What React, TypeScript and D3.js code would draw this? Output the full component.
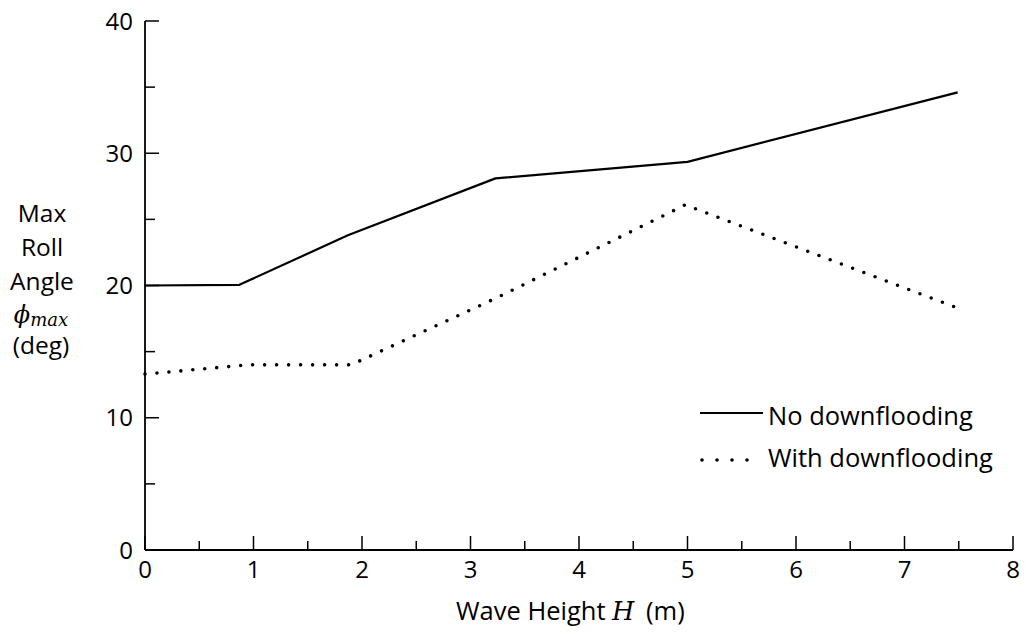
import React from "react";
import * as d3 from "d3";

const noDownX = [0, 0.87, 1.87, 3.23, 5.0, 7.49];
const noDownY = [20.0, 20.05, 23.8, 28.1, 29.35, 34.6];
const withDownX = [0, 0.95, 1.9, 3.25, 4.98, 7.49];
const withDownY = [13.3, 14.0, 14.0, 19.1, 26.1, 18.3];
const xMajor = [0, 1, 2, 3, 4, 5, 6, 7, 8];
const xMinor = [0.5, 1.5, 2.5, 3.5, 4.5, 5.5, 6.5, 7.5];
const yMajor = [0, 10, 20, 30, 40];
const yMinor = [5, 15, 25, 35];
const legendLabels = ["No downflooding", "With downflooding"];
const yLabelLines = ["Max", "Roll", "Angle"];

const W = 1026;
const H = 636;
const FONT = "'Open Sans', 'DejaVu Sans', sans-serif";
const MATH = "'DejaVu Serif', 'Liberation Serif', serif";

export default function App() {
  const x = d3.scaleLinear().domain([0, 8]).range([145, 1013]);
  const y = d3.scaleLinear().domain([0, 40]).range([550, 21]);
  const line = d3
    .line<[number, number]>()
    .x((d) => x(d[0]))
    .y((d) => y(d[1]));
  const solid = noDownX.map((v, i) => [v, noDownY[i]] as [number, number]);
  const dotted = withDownX.map((v, i) => [v, withDownY[i]] as [number, number]);

  return (
    <svg
      width={W}
      height={H}
      style={{ position: "absolute", left: 0, top: 0, background: "#fff" }}
    >
      <rect x={0} y={0} width={W} height={H} fill="#fff" />
      {/* axes */}
      <line x1={x(0)} x2={x(0)} y1={y(40)} y2={y(0)} stroke="#000" strokeWidth={1.8} />
      <line x1={x(0)} x2={x(8)} y1={y(0)} y2={y(0)} stroke="#000" strokeWidth={1.8} />
      {yMajor.map((t) => (
        <g key={"ym" + t}>
          <line x1={x(0)} x2={x(0) + 14} y1={y(t)} y2={y(t)} stroke="#000" strokeWidth={1.5} />
          <text
            x={133}
            y={y(t)}
            dy="0.36em"
            textAnchor="end"
            fontFamily={FONT}
            fontSize={24}
          >
            {t}
          </text>
        </g>
      ))}
      {yMinor.map((t) => (
        <line key={"yn" + t} x1={x(0)} x2={x(0) + 10} y1={y(t)} y2={y(t)} stroke="#000" strokeWidth={1.5} />
      ))}
      {xMajor.map((t) => (
        <g key={"xm" + t}>
          <line x1={x(t)} x2={x(t)} y1={y(0)} y2={y(0) - 14} stroke="#000" strokeWidth={1.5} />
          <text
            x={x(t)}
            y={578}
            textAnchor="middle"
            fontFamily={FONT}
            fontSize={24}
          >
            {t}
          </text>
        </g>
      ))}
      {xMinor.map((t) => (
        <line key={"xn" + t} x1={x(t)} x2={x(t)} y1={y(0)} y2={y(0) - 9} stroke="#000" strokeWidth={1.5} />
      ))}

      {/* data */}
      <path d={line(solid) || ""} fill="none" stroke="#000" strokeWidth={2.2} strokeLinejoin="round" />
      <path
        d={line(dotted) || ""}
        fill="none"
        stroke="#000"
        strokeWidth={3.6}
        strokeLinecap="round"
        strokeDasharray="0 12"
      />

      {/* legend */}
      <line x1={700} x2={763} y1={413} y2={413} stroke="#000" strokeWidth={2} />
      <text x={768} y={425} fontFamily={FONT} fontSize={25.5}>
        {legendLabels[0]}
      </text>
      <line
        x1={702}
        x2={762}
        y1={460}
        y2={460}
        stroke="#000"
        strokeWidth={3.6}
        strokeLinecap="round"
        strokeDasharray="0 15"
      />
      <text x={768} y={467} fontFamily={FONT} fontSize={25.5}>
        {legendLabels[1]}
      </text>

      {/* y label */}
      {yLabelLines.map((s, i) => (
        <text
          key={s}
          x={42}
          y={222 + i * 34}
          textAnchor="middle"
          fontFamily={FONT}
          fontSize={24.5}
        >
          {s}
        </text>
      ))}
      <text x={41} y={323} textAnchor="middle" fontFamily={MATH} fontStyle="italic" fontSize={24}>
        <tspan>ϕ</tspan>
        <tspan fontSize={18} dy={3}>max</tspan>
      </text>
      <text x={41} y={354} textAnchor="middle" fontFamily={FONT} fontSize={24.5}>
        (deg)
      </text>

      {/* x label */}
      <text y={620} fontFamily={FONT} fontSize={25.5}>
        <tspan x={456}>Wave Height</tspan>
        <tspan x={612} fontFamily={MATH} fontStyle="italic">H</tspan>
        <tspan x={646}>(m)</tspan>
      </text>
    </svg>
  );
}
